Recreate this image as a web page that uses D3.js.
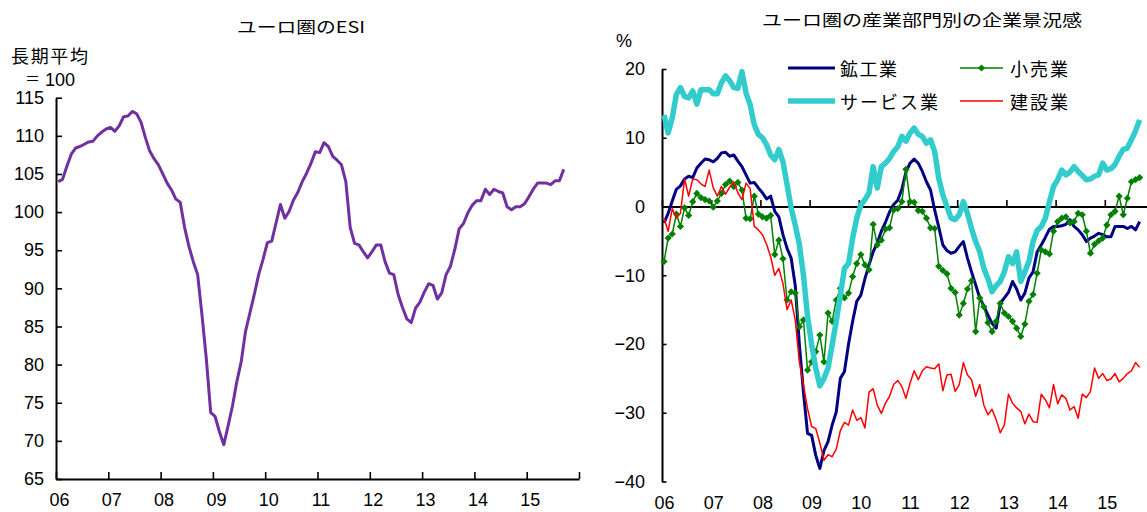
<!DOCTYPE html>
<html><head><meta charset="utf-8">
<script src="https://cdn.jsdelivr.net/npm/d3@7"></script>
<style>
html,body{margin:0;padding:0;background:#fff;}
svg{display:block;}
.cjk{font-family:"Noto Sans CJK JP","Noto Sans",sans-serif;}
.num{font-family:"Liberation Sans",Arial,sans-serif;}
</style></head>
<body>
<svg id="c" width="1147" height="512"></svg>
<script>
// ---- data (monthly, Jan 2006 – Sep 2015) ----
const yearLabels = ["06","07","08","09","10","11","12","13","14","15",""];
const esiTicks = [65,70,75,80,85,90,95,100,105,110,115];
const bizTicks = [-40,-30,-20,-10,0,10,20];

const esi = [104.0,104.3,106.0,107.6,108.4,108.6,108.9,109.2,109.3,110.0,110.5,110.9,
 111.1,110.6,111.3,112.5,112.6,113.2,112.9,111.8,109.8,108.0,107.0,106.2,
 105.0,103.8,102.9,101.7,101.3,98.0,95.5,93.5,91.8,86.5,80.7,73.7,
 73.2,71.2,69.5,72.0,74.6,77.8,80.4,84.4,86.8,89.2,91.8,93.8,
 96.0,96.2,98.6,101.0,99.2,100.1,101.6,102.6,104.0,105.1,106.4,107.9,
 107.8,109.1,108.6,107.3,106.8,106.2,104.0,98.0,95.9,95.7,94.8,94.0,
 94.8,95.7,95.7,93.5,92.0,91.8,89.2,87.5,86.0,85.5,87.4,88.2,
 89.5,90.6,90.4,88.6,89.4,91.8,92.9,95.1,97.8,98.5,99.9,100.9,
 101.5,101.5,103.0,102.3,103.0,102.7,102.5,100.7,100.3,100.7,100.7,101.1,
 102.0,103.0,103.8,103.8,103.8,103.6,104.1,104.1,105.6];

const industry = [-2.4,-1.0,0.8,2.5,3.0,4.0,4.4,4.2,5.6,6.3,6.9,6.8,
 6.5,7.0,7.8,7.9,7.3,7.5,6.6,5.8,4.6,3.4,3.5,2.7,
 2.0,1.1,1.5,-0.7,-1.5,-4.1,-6.1,-7.5,-11.5,-20.0,-27.0,-33.0,
 -33.3,-36.2,-38.1,-35.5,-34.2,-31.8,-29.9,-25.0,-24.0,-20.0,-16.7,-13.8,
 -12.9,-10.5,-8.5,-6.6,-5.3,-3.6,-2.3,-0.8,0.3,0.9,2.5,5.0,
 6.3,6.9,6.3,5.1,3.6,2.4,-0.5,-3.0,-5.6,-6.4,-6.8,-6.6,
 -5.8,-5.1,-7.5,-9.5,-11.4,-13.3,-14.5,-15.8,-17.0,-17.7,-14.1,-13.3,
 -12.5,-10.9,-12.0,-13.6,-12.6,-10.4,-9.5,-6.6,-5.6,-4.5,-3.3,-2.9,
 -2.9,-2.8,-2.6,-1.9,-2.9,-3.4,-4.1,-5.1,-4.6,-4.3,-3.9,-4.1,
 -4.4,-4.4,-2.9,-2.9,-2.9,-3.2,-2.9,-3.4,-2.2];

const retail = [-8.0,-4.6,-4.0,-1.1,-2.9,-0.2,-1.3,0.7,1.9,1.3,1.0,0.8,
 -0.1,0.8,1.9,3.2,3.7,2.9,3.5,2.4,-1.7,-1.8,1.5,-1.1,
 -1.5,-1.7,-1.3,-7.0,-4.9,-7.6,-13.6,-12.4,-12.6,-17.5,-16.5,-23.8,
 -22.6,-21.1,-18.7,-22.6,-15.5,-16.7,-13.6,-11.9,-13.3,-12.6,-10.2,-8.3,
 -7.0,-8.5,-9.2,-2.6,-5.6,-4.9,-3.3,-3.1,-0.5,-0.3,0.7,5.4,
 0.7,0.6,-0.6,-0.7,-1.7,-3.1,-3.2,-8.7,-9.3,-9.8,-11.9,-12.5,
 -15.8,-14.1,-12.0,-10.8,-18.2,-13.3,-14.6,-16.9,-18.2,-16.7,-14.1,-15.5,
 -16.0,-16.7,-17.7,-18.9,-17.1,-13.8,-12.8,-9.7,-6.3,-6.6,-6.9,-3.6,
 -2.2,-1.7,-1.5,-2.4,-2.2,-1.0,-1.2,-3.6,-6.8,-5.5,-5.0,-4.6,
 -2.7,-1.2,-0.7,1.5,-1.2,1.2,3.6,3.9,4.2];

const services = [13.3,10.7,12.9,16.3,17.3,16.0,15.8,16.8,14.9,17.0,17.0,17.0,
 16.4,16.4,18.0,19.0,18.3,17.3,17.2,19.6,16.5,14.8,11.9,10.5,
 10.0,9.0,7.5,6.8,8.3,6.5,3.2,-0.2,-2.7,-5.5,-10.0,-16.0,
 -20.1,-23.5,-26.1,-25.0,-23.5,-20.1,-16.7,-12.9,-9.0,-8.3,-4.6,-1.7,
 0.2,1.0,2.0,5.8,2.7,5.8,6.3,7.0,8.0,8.7,10.2,9.5,
 10.7,11.4,10.5,10.2,9.2,9.7,8.0,4.1,1.7,0.0,-1.7,-1.9,
 -1.2,0.7,-1.0,-3.2,-5.1,-6.6,-9.0,-10.5,-12.4,-11.5,-10.9,-9.5,
 -7.3,-8.3,-6.6,-10.9,-9.5,-8.0,-5.1,-3.5,-2.9,-1.7,0.7,2.9,
 3.9,5.3,4.6,5.0,5.8,5.1,4.5,3.9,4.0,4.4,4.6,6.3,
 5.3,5.5,6.1,7.3,8.3,8.5,9.7,11.0,12.6];

const construction = [-1.7,-3.6,-0.3,-1.7,-1.0,4.0,1.5,4.0,3.9,3.3,2.9,5.3,
 2.7,1.5,2.9,1.8,2.8,3.6,2.0,1.0,3.4,2.6,-2.9,-3.4,
 -4.1,-5.5,-7.3,-10.0,-9.0,-11.2,-15.0,-13.6,-16.5,-22.6,-26.0,-29.4,
 -32.0,-32.3,-34.4,-36.9,-36.1,-36.4,-35.3,-32.6,-31.4,-31.8,-29.6,-31.1,
 -30.7,-32.2,-27.0,-26.5,-28.9,-30.1,-28.6,-27.6,-25.9,-25.3,-26.2,-27.9,
 -25.7,-23.9,-25.2,-23.9,-23.3,-23.5,-23.6,-22.9,-26.8,-24.5,-24.4,-26.9,
 -25.9,-22.7,-24.5,-25.2,-27.6,-25.9,-28.9,-30.3,-29.5,-31.0,-32.9,-31.8,
 -27.3,-28.6,-29.3,-29.8,-31.6,-30.2,-31.3,-31.4,-27.3,-28.1,-29.3,-25.9,
 -28.7,-27.4,-27.9,-29.6,-29.1,-30.8,-27.3,-27.8,-26.9,-23.5,-25.0,-24.3,
 -25.3,-25.1,-24.3,-25.5,-25.0,-24.3,-23.9,-22.7,-23.4];

const seriesNames = ["鉱工業","小売業","サービス業","建設業"];

// ---- drawing ----
const svg = d3.select("#c");
const monthTicks = d3.range(0, 121, 12);

function styleAxis(g){
  g.attr("font-family", '"Liberation Sans", Arial, sans-serif').attr("font-size", 18);
  g.selectAll(".domain").attr("stroke", "#000").attr("stroke-width", 2);
  g.selectAll(".tick line").attr("stroke", "#000").attr("stroke-width", 1.6);
  g.selectAll(".tick text").attr("fill", "#000");
}

// ===== Left chart: ESI =====
const xL = d3.scaleLinear().domain([0,120]).range([56,579]);
const yL = d3.scaleLinear().domain([65,115]).range([479,97.7]);

svg.append("g").attr("transform","translate(56,0)")
  .call(d3.axisLeft(yL).tickValues(esiTicks).tickSize(-6).tickSizeOuter(0).tickPadding(12))
  .call(styleAxis);

svg.append("g").attr("transform","translate(0,479)")
  .call(d3.axisBottom(xL).tickValues(monthTicks).tickSize(-7).tickSizeOuter(0).tickPadding(14)
        .tickFormat((d,i)=>yearLabels[i]))
  .call(styleAxis)
  .call(g=>g.selectAll(".tick text").attr("dx",3));

svg.append("path").datum(esi)
  .attr("fill","none").attr("stroke","#7030A0").attr("stroke-width",3)
  .attr("stroke-linejoin","round")
  .attr("d", d3.line().x((d,i)=>xL(i+0.5)).y(d=>yL(d)));

svg.append("text").attr("class","cjk").attr("x",237).attr("y",33)
  .attr("font-size",16).attr("textLength",128).attr("lengthAdjust","spacingAndGlyphs")
  .text("ユーロ圏のESI");
svg.append("text").attr("class","cjk").attr("x",11).attr("y",63)
  .attr("font-size",18).attr("textLength",77).attr("lengthAdjust","spacing")
  .text("長期平均");
svg.append("text").attr("class","cjk").attr("x",25).attr("y",84)
  .attr("font-size",15).text("＝");
svg.append("text").attr("class","num").attr("x",45).attr("y",86)
  .attr("font-size",18).text("100");

// ===== Right chart: business confidence by sector =====
const xR = d3.scaleLinear().domain([0,120]).range([662,1154]);
const yR = d3.scaleLinear().domain([-40,20]).range([481.5,69]);

svg.append("g").attr("transform","translate(662,0)")
  .call(d3.axisLeft(yR).tickValues(bizTicks).tickSize(-4.5).tickSizeOuter(0).tickPadding(17)
        .tickFormat(d=> d<0 ? "\u2212"+Math.abs(d) : String(d)))
  .call(styleAxis);

// zero line with upward ticks
svg.append("g").attr("transform",`translate(0,${yR(0)})`)
  .call(d3.axisBottom(xR).tickValues(monthTicks).tickSize(-6.5).tickSizeOuter(0).tickFormat(""))
  .call(styleAxis);

// year labels at the bottom
svg.append("g").attr("transform",`translate(0,${yR(-40)})`)
  .call(d3.axisBottom(xR).tickValues(monthTicks.slice(0,10)).tickSize(0).tickPadding(15)
        .tickFormat((d,i)=>yearLabels[i]))
  .call(styleAxis)
  .call(g=>g.select(".domain").remove())
  .call(g=>g.selectAll(".tick text").attr("dx",2));

const lineR = d3.line().x((d,i)=>xR(i+0.5)).y(d=>yR(d));
const series = [
  {name:seriesNames[0], data:industry, color:"#000080", w:3},
  {name:seriesNames[1], data:retail, color:"#008000", w:1.5, marker:true},
  {name:seriesNames[2], data:services, color:"#33CCCC", w:5.5},
  {name:seriesNames[3], data:construction, color:"#FF0000", w:1.5}
];
const diamond = d3.symbol().type(d3.symbolSquare).size(26);

series.forEach(s=>{
  svg.append("path").datum(s.data)
    .attr("fill","none").attr("stroke",s.color).attr("stroke-width",s.w)
    .attr("stroke-linejoin","round").attr("d",lineR);
  if(s.marker){
    svg.append("g").selectAll("path").data(s.data).join("path")
      .attr("d",diamond)
      .attr("transform",(d,i)=>`translate(${xR(i+0.5)},${yR(d)}) rotate(45)`)
      .attr("fill",s.color);
  }
});

svg.append("text").attr("class","num").attr("x",616).attr("y",47)
  .attr("font-size",18).text("%");
svg.append("text").attr("class","cjk").attr("x",762).attr("y",26)
  .attr("font-size",16).attr("textLength",320).attr("lengthAdjust","spacingAndGlyphs")
  .text("ユーロ圏の産業部門別の企業景況感");

// legend
const legendPos = [
  {x1:788,x2:835,y:68,tx:840,len:57},
  {x1:960,x2:1003,y:68,tx:1010,len:58},
  {x1:788,x2:835,y:101,tx:840,len:98},
  {x1:960,x2:1003,y:101,tx:1010,len:58}
];
series.forEach((s,k)=>{
  const p = legendPos[k];
  const g = svg.append("g");
  g.append("line").attr("x1",p.x1).attr("x2",p.x2).attr("y1",p.y).attr("y2",p.y)
    .attr("stroke",s.color).attr("stroke-width",s.w);
  if(s.marker){
    g.append("path").attr("d",diamond)
      .attr("transform",`translate(${(p.x1+p.x2)/2},${p.y}) rotate(45)`).attr("fill",s.color);
  }
  g.append("text").attr("class","cjk").attr("x",p.tx).attr("y",p.y+8)
    .attr("font-size",18).attr("textLength",p.len).attr("lengthAdjust","spacing")
    .text(s.name);
});
</script>
</body></html>
